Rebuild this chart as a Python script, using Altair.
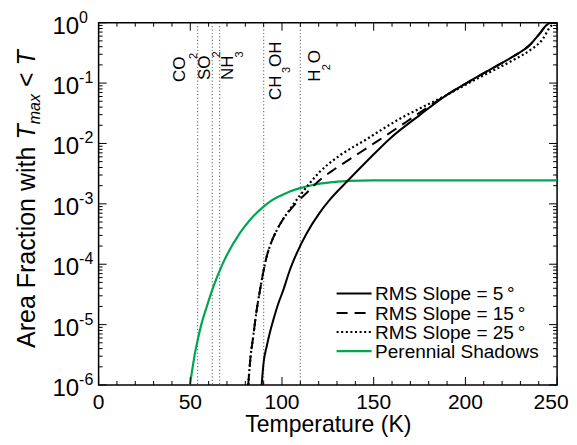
import altair as alt
import numpy as np
import pandas as pd

# ---------------- data (log10 of area fraction) ----------------
T_SLOPE5 = [88.9, 90.0, 91.6, 93.5, 95.2, 98.0, 100.7, 104.0, 108.0, 113.4, 120.7, 126.1,
            136.1, 146.1, 158.8, 175.1, 189.7, 200.6, 213.3, 226.0, 235.1, 240.5, 244.2,
            246.5, 250.0]
LOG_SLOPE5 = [-6.0, -5.62, -5.37, -5.12, -4.93, -4.65, -4.43, -4.12, -3.82, -3.49, -3.14, -2.93,
              -2.61, -2.30, -1.92, -1.53, -1.20, -1.00, -0.78, -0.56, -0.37, -0.18, -0.04,
              0.0, 0.0]

T_SLOPE15 = [81.6, 82.8, 84.3, 86.0, 88.0, 89.8, 91.6, 94.0, 97.1, 100.5, 104.3, 108.5,
             113.4, 120.0, 128.0, 137.0, 151.6, 167.9, 178.0, 189.7, 200.6, 213.3, 226.0,
             235.1, 240.5, 244.2, 246.5, 250.0]
LOG_SLOPE15 = [-6.0, -5.55, -5.20, -4.80, -4.43, -4.13, -3.88, -3.65, -3.44, -3.26, -3.11, -2.96,
               -2.82, -2.62, -2.44, -2.26, -1.97, -1.64, -1.43, -1.20, -1.00, -0.78, -0.56,
               -0.37, -0.18, -0.04, 0.0, 0.0]

T_SLOPE25 = [81.6, 82.8, 84.3, 86.0, 88.0, 89.8, 91.6, 94.0, 97.1, 100.5, 104.3, 109.8,
             114.0, 120.6, 131.5, 146.1, 153.4, 164.3, 175.1, 189.7, 200.6, 213.3, 226.0,
             236.9, 242.0, 246.0, 249.0, 250.0]
LOG_SLOPE25 = [-6.0, -5.55, -5.20, -4.80, -4.43, -4.13, -3.88, -3.65, -3.44, -3.26, -3.09, -2.86,
               -2.70, -2.47, -2.20, -1.93, -1.79, -1.59, -1.42, -1.20, -1.02, -0.82, -0.62,
               -0.42, -0.28, -0.08, 0.0, 0.0]

T_SHADOW = [49.8, 51.0, 52.5, 54.0, 56.0, 58.9, 62.5, 68.0, 77.1, 83.0, 89.8, 94.0, 98.9,
            104.0, 109.8, 115.0, 120.0, 128.0, 136.0, 150.0, 250.0]
LOG_SHADOW = [-6.0, -5.76, -5.48, -5.26, -5.00, -4.71, -4.38, -3.97, -3.48, -3.25, -3.05, -2.95,
              -2.87, -2.80, -2.74, -2.70, -2.67, -2.64, -2.62, -2.61, -2.61]

# volatile species (condensation temperatures, K)
VOLATILE_T = [54, 62, 66, 90, 110]
VOLATILE_MAIN = ["CO", "SO", "NH", "CH", "H"]
VOLATILE_SUB = ["2", "2", "3", "3", "2"]
VOLATILE_TAIL = ["", "", "", "OH", "O"]

X_TICKS = [0, 50, 100, 150, 200, 250]
X_TICK_LABELS = ["0", "50", "100", "150", "200", "250"]
X_MINOR = [t for t in range(10, 250, 10) if t % 50 != 0]
Y_DECADES = [1e-6, 1e-5, 1e-4, 1e-3, 1e-2, 1e-1, 1.0]
Y_EXPONENTS = ["-6", "-5", "-4", "-3", "-2", "-1", "0"]
Y_MINOR = [m * d for d in Y_DECADES[:-1] for m in range(2, 10)]

LEGEND_LABELS = ["RMS Slope = 5\u2009°", "RMS Slope = 15\u2009°",
                 "RMS Slope = 25\u2009°", "Perennial Shadows"]

# ---------------- layout / style ----------------
W, H = 458.5, 362.3
FONT = "Liberation Sans"
GREEN = "#00a651"
xs = alt.Scale(domain=[0, 250], nice=False, zero=False)
ys = alt.Scale(type="log", domain=[1e-6, 1.0], nice=False)

x_axis = alt.Axis(values=X_TICKS, labels=False, ticks=False, tickSize=0,
                  domain=False, grid=False,
                  title="Temperature (K)", titleFontSize=23, titleFont=FONT,
                  titleFontWeight="normal", titleColor="black", titleY=47,
                  titleBaseline="alphabetic")


def X(field="T"):
    return alt.X(f"{field}:Q", scale=xs, axis=x_axis)


def Y(field="v"):
    return alt.Y(f"{field}:Q", scale=ys, axis=None)


def curve(ts, logs):
    return pd.DataFrame({"T": ts, "v": 10.0 ** np.array(logs)})


layers = []

# vertical dotted lines for volatiles
vol_df = pd.DataFrame({"T": VOLATILE_T})
layers.append(alt.Chart(vol_df).mark_rule(color="#7a7a7a", strokeWidth=1.2,
                                          strokeDash=[1.2, 2.2]).encode(
    x=X(), y=alt.value(0), y2=alt.value(H)))

# curves
layers.append(alt.Chart(curve(T_SHADOW, LOG_SHADOW)).mark_line(
    color=GREEN, strokeWidth=2.2, clip=True, interpolate="monotone").encode(x=X(), y=Y()))
layers.append(alt.Chart(curve(T_SLOPE25, LOG_SLOPE25)).mark_line(
    color="black", strokeWidth=2.2, strokeDash=[2, 2.6], clip=True,
    interpolate="monotone").encode(x=X(), y=Y()))
layers.append(alt.Chart(curve(T_SLOPE15, LOG_SLOPE15)).mark_line(
    color="black", strokeWidth=2, strokeDash=[11, 7], clip=True,
    interpolate="monotone").encode(x=X(), y=Y()))
layers.append(alt.Chart(curve(T_SLOPE5, LOG_SLOPE5)).mark_line(
    color="black", strokeWidth=2, clip=True, interpolate="monotone").encode(x=X(), y=Y()))

# ticks (inward) on all four sides
xmaj = pd.DataFrame({"T": X_TICKS, "lab": X_TICK_LABELS})
xmin = pd.DataFrame({"T": X_MINOR})
for df, ln in ((xmaj, 8), (xmin, 4)):
    layers.append(alt.Chart(df).mark_rule(color="black", strokeWidth=1).encode(
        x=X(), y=alt.value(H), y2=alt.value(H - ln)))
    layers.append(alt.Chart(df).mark_rule(color="black", strokeWidth=1).encode(
        x=X(), y=alt.value(0), y2=alt.value(ln)))
ymaj = pd.DataFrame({"v": Y_DECADES, "exp": Y_EXPONENTS, "base": ["10"] * len(Y_DECADES)})
ymin = pd.DataFrame({"v": Y_MINOR})
for df, ln in ((ymaj, 8), (ymin, 4)):
    layers.append(alt.Chart(df).mark_rule(color="black", strokeWidth=1).encode(
        y=Y(), x=alt.value(0), x2=alt.value(ln)))
    layers.append(alt.Chart(df).mark_rule(color="black", strokeWidth=1).encode(
        y=Y(), x=alt.value(W), x2=alt.value(W - ln)))

# x tick labels (last one kept inside the page)
layers.append(alt.Chart(xmaj.iloc[:-1]).mark_text(
    align="center", baseline="top", fontSize=21, font=FONT, color="black").encode(
    x=X(), y=alt.value(H + 7), text="lab:N"))
layers.append(alt.Chart(xmaj.iloc[-1:]).mark_text(
    align="right", baseline="top", fontSize=21, font=FONT, color="black", dx=11.5).encode(
    x=X(), y=alt.value(H + 7), text="lab:N"))

# y tick labels 10^n
layers.append(alt.Chart(ymaj).mark_text(align="right", baseline="middle", fontSize=24,
                                        font=FONT, color="black", dy=4).encode(
    y=Y(), x=alt.value(-19.5), text="base:N"))
layers.append(alt.Chart(ymaj).mark_text(align="left", baseline="middle", fontSize=16,
                                        font=FONT, color="black", dy=-5).encode(
    y=Y(), x=alt.value(-19.5), text="exp:N"))

# y axis title, built from pieces (rotated)
YT_F, YT_SUB = 25, 16
y_title_pieces = [
    ("Area Fraction with", 0.0, 0.0, YT_F, "normal"),
    ("T", 208.4, 0.0, YT_F, "italic"),
    ("max", 223.7, 5.0, YT_SUB, "italic"),
    ("<", 260.9, 0.0, YT_F, "normal"),
    ("T", 282.5, 0.0, YT_F, "italic"),
]
for txt, dx, dy, fs, style in y_title_pieces:
    layers.append(alt.Chart(pd.DataFrame({"t": [txt]})).mark_text(
        angle=270, align="left", baseline="alphabetic", fontSize=fs, font=FONT,
        fontStyle=style, color="black", dx=dx, dy=dy).encode(
        x=alt.value(-63.6), y=alt.value(325.3), text="t:N"))

# volatile labels (rotated), main text, subscript, tail
LBL_Y = [59.3, 57.3, 57.3, 77.3, 59.0]
LBL_DY = [-12.7, -2.7, 13.6, 17.0, 20.0]
SUB_DX = [23.0, 22.5, 22.5, 27.0, 11.5]
SUB_DY = [-1.0, 8.0, 23.6, 26.5, 30.0]
TAIL_DX = [0, 0, 0, 33.0, 18.5]
for i in range(len(VOLATILE_T)):
    base = pd.DataFrame({"T": [VOLATILE_T[i]]})
    parts = [(VOLATILE_MAIN[i], 0.0, LBL_DY[i], 17), (VOLATILE_SUB[i], SUB_DX[i], SUB_DY[i], 11)]
    if VOLATILE_TAIL[i]:
        parts.append((VOLATILE_TAIL[i], TAIL_DX[i], LBL_DY[i], 17))
    for txt, dx, dy, fs in parts:
        d = base.assign(t=txt)
        layers.append(alt.Chart(d).mark_text(
            angle=270, align="left", baseline="alphabetic", fontSize=fs, font=FONT,
            color="black", dx=dx, dy=dy).encode(x=X(), y=alt.value(LBL_Y[i]), text="t:N"))

# legend
ROW_Y = [270.8, 290.3, 309.3, 328.5]
LEG_STYLES = [dict(color="black", strokeWidth=2),
              dict(color="black", strokeWidth=2, strokeDash=[11, 7]),
              dict(color="black", strokeWidth=2.2, strokeDash=[2, 2.6]),
              dict(color=GREEN, strokeWidth=2.2)]
for i, lab in enumerate(LEGEND_LABELS):
    d = pd.DataFrame({"t": [lab]})
    layers.append(alt.Chart(d).mark_rule(**LEG_STYLES[i]).encode(
        x=alt.value(238), x2=alt.value(273), y=alt.value(ROW_Y[i])))
    layers.append(alt.Chart(d).mark_text(align="left", baseline="middle", fontSize=19,
                                         font=FONT, color="black").encode(
        x=alt.value(276.5), y=alt.value(ROW_Y[i] + 1), text="t:N"))

chart = alt.layer(*layers).properties(
    width=W, height=H,
    autosize=alt.AutoSizeParams(type="none"),
    padding={"left": 90.6, "top": 14.7, "right": 11.8, "bottom": 51.9},
    background="white",
).configure_view(stroke="black", strokeWidth=1.5)

chart.save("out.html", embed_options={"renderer": "svg", "actions": False})
